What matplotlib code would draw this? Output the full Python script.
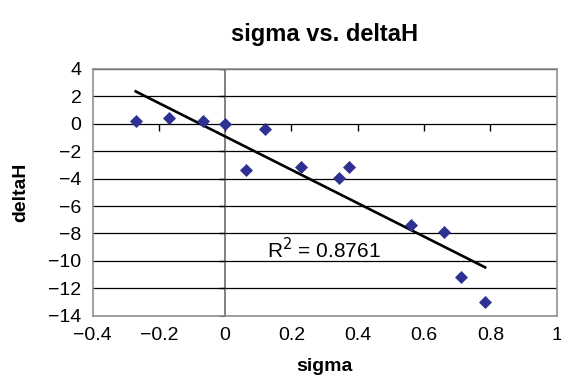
import matplotlib
matplotlib.use("Agg")
import matplotlib.pyplot as plt
import numpy as np

plt.rcParams["font.family"] = ["Liberation Sans", "DejaVu Sans"]

# data
sigma = [-0.27, -0.17, -0.066, 0.0, 0.062, 0.121, 0.23, 0.343, 0.373, 0.561, 0.661, 0.71, 0.784]
delta_h = [0.19, 0.43, 0.21, -0.03, -3.38, -0.42, -3.14, -3.99, -3.14, -7.41, -7.92, -11.16, -12.98]
x_ticks = [-0.4, -0.2, 0, 0.2, 0.4, 0.6, 0.8, 1]
y_ticks = [4, 2, 0, -2, -4, -6, -8, -10, -12, -14]
r2_label = "R$^2$ = 0.8761"

fig = plt.figure(figsize=(5.61, 3.80), dpi=100)
ax = fig.add_axes([0.165, 0.169, 0.8274, 0.65])

ax.set_xlim(-0.4, 1)
ax.set_ylim(-14, 4)
ax.set_xticks(x_ticks)
ax.set_yticks(y_ticks)
ax.set_xticklabels([f"{t:g}".replace("-", "\u2212") for t in x_ticks])
ax.set_yticklabels([f"{t:g}".replace("-", "\u2212") for t in y_ticks])
ax.tick_params(length=0, labelsize=14, pad=8)

# horizontal gridlines
for t in y_ticks:
    ax.axhline(t, color="black", lw=0.9, zorder=1)
# vertical axis at x=0
ax.axvline(0, color="#808080", lw=1.4, zorder=1)
# crossing tick marks
ax.plot(x_ticks[1:-1], [0] * (len(x_ticks) - 2), ls="none", marker=3, ms=5, mew=1, color="black", zorder=2)
ax.plot([0] * len(y_ticks), y_ticks, ls="none", marker=0, ms=4, mew=1, color="black", zorder=2)

for s in ax.spines.values():
    s.set_color("#909090")
    s.set_linewidth(1.2)

# trendline
xs = np.array(sigma)
ys = np.array(delta_h)
k, b = np.polyfit(xs, ys, 1)
xl = np.array([xs.min(), xs.max()])
ax.plot(xl, k * xl + b, color="black", lw=1.9, zorder=3)

ax.scatter(sigma, delta_h, marker="D", s=44, color="#2E3192", zorder=4, linewidths=0)

ax.text(0.126, -9.2, r2_label, fontsize=15, ha="left", va="center")

ax.set_title("sigma vs. deltaH", fontsize=17, fontweight="bold", pad=20)
ax.set_xlabel("sigma", fontsize=14, fontweight="bold", labelpad=10)
ax.set_ylabel("deltaH", fontsize=14, fontweight="bold", labelpad=14)

fig.savefig("out.png", dpi=100)
